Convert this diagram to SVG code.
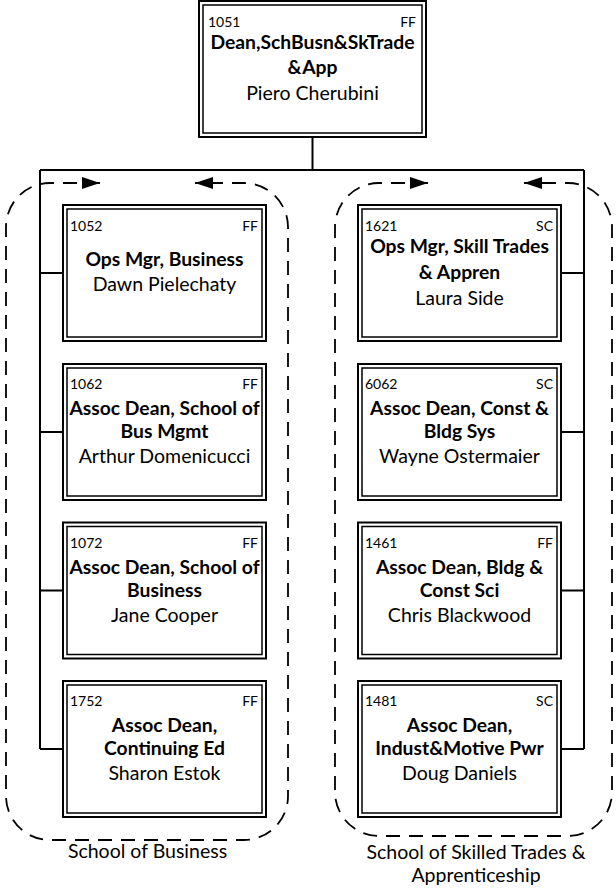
<svg xmlns="http://www.w3.org/2000/svg" width="616" height="891" viewBox="0 0 616 891">
<defs>
<style>
.bo{fill:#fff;stroke:#000;stroke-width:2}
.bi{fill:none;stroke:#000;stroke-width:1.5}
.id{font-family:Lato,"Liberation Sans",sans-serif;font-size:14px;fill:#000}
.tt{font-family:Lato,"Liberation Sans",sans-serif;font-size:19.3px;font-weight:bold;fill:#000;text-anchor:middle}
.nm{font-family:Lato,"Liberation Sans",sans-serif;font-size:19.5px;fill:#000;text-anchor:middle}
.lb{font-family:Lato,"Liberation Sans",sans-serif;font-size:19.5px;fill:#000;text-anchor:middle}
.ln{fill:none;stroke:#000;stroke-width:2}
.dash{fill:none;stroke:#000;stroke-width:1.8;stroke-dasharray:14 9;marker-start:url(#ah);marker-end:url(#ah)}
</style>
<marker id="ah" markerUnits="userSpaceOnUse" markerWidth="18" markerHeight="12" viewBox="0 0 18 12" refX="18" refY="6" orient="auto-start-reverse">
<path d="M0,0 L18,6 L0,12 z" fill="#000"/>
</marker>
</defs>
<rect width="616" height="891" fill="#fff"/>
<g id="connectors">
<path class="ln" d="M312.5,137 V170 M40,170 H584 M40,170 V749 M584,170 V749 M40,273 H63 M40,432 H63 M40,590.5 H63 M40,749 H63 M561,273 H584 M561,432 H584 M561,590.5 H584 M561,749 H584"/>
</g>
<g id="group-business">
<path class="dash" d="M100,183 H50 A44,44 0 0 0 6,227 V796 A44,44 0 0 0 50,840 H244 A44,44 0 0 0 288,796 V227 A44,44 0 0 0 244,183 H195"/>
<text class="lb" x="147.5" y="858">School of Business</text>
</g>
<g id="group-trades">
<path class="dash" d="M428,183 H379 A44,44 0 0 0 335,227 V792 A44,44 0 0 0 379,836 H568 A44,44 0 0 0 612,792 V227 A44,44 0 0 0 568,183 H524"/>
<text class="lb" x="476" y="859">School of Skilled Trades &amp;</text>
<text class="lb" x="476" y="882">Apprenticeship</text>
</g>
<g id="n1051">
<rect class="bo" x="199" y="1" width="227" height="136"/>
<rect class="bi" x="203" y="5" width="219" height="128"/>
<text class="id" x="208" y="27">1051</text>
<text class="id" x="416" y="27" text-anchor="end">FF</text>
<text class="tt" x="312.5" y="49">Dean,SchBusn&amp;SkTrade</text>
<text class="tt" x="312.5" y="74">&amp;App</text>
<text class="nm" x="312.5" y="100">Piero Cherubini</text>
</g>
<g id="n1052">
<rect class="bo" x="63" y="205" width="203" height="136"/>
<rect class="bi" x="67" y="209" width="195" height="128"/>
<text class="id" x="70" y="231">1052</text>
<text class="id" x="258" y="231" text-anchor="end">FF</text>
<text class="tt" x="164.5" y="266">Ops Mgr, Business</text>
<text class="nm" x="164.5" y="291">Dawn Pielechaty</text>
</g>
<g id="n1062">
<rect class="bo" x="63" y="364" width="203" height="136"/>
<rect class="bi" x="67" y="368" width="195" height="128"/>
<text class="id" x="70" y="389">1062</text>
<text class="id" x="258" y="389" text-anchor="end">FF</text>
<text class="tt" x="164.5" y="415">Assoc Dean, School of</text>
<text class="tt" x="164.5" y="438">Bus Mgmt</text>
<text class="nm" x="164.5" y="463">Arthur Domenicucci</text>
</g>
<g id="n1072">
<rect class="bo" x="63" y="522.5" width="203" height="136"/>
<rect class="bi" x="67" y="526.5" width="195" height="128"/>
<text class="id" x="70" y="547.5">1072</text>
<text class="id" x="258" y="547.5" text-anchor="end">FF</text>
<text class="tt" x="164.5" y="573.5">Assoc Dean, School of</text>
<text class="tt" x="164.5" y="596.5">Business</text>
<text class="nm" x="164.5" y="621.5">Jane Cooper</text>
</g>
<g id="n1752">
<rect class="bo" x="63" y="681" width="203" height="136"/>
<rect class="bi" x="67" y="685" width="195" height="128"/>
<text class="id" x="70" y="706">1752</text>
<text class="id" x="258" y="706" text-anchor="end">FF</text>
<text class="tt" x="164.5" y="732">Assoc Dean,</text>
<text class="tt" x="164.5" y="755">Continuing Ed</text>
<text class="nm" x="164.5" y="780">Sharon Estok</text>
</g>
<g id="n1621">
<rect class="bo" x="358" y="205" width="203" height="136"/>
<rect class="bi" x="362" y="209" width="195" height="128"/>
<text class="id" x="365" y="231">1621</text>
<text class="id" x="553" y="231" text-anchor="end">SC</text>
<text class="tt" x="459.5" y="253">Ops Mgr, Skill Trades</text>
<text class="tt" x="459.5" y="279">&amp; Appren</text>
<text class="nm" x="459.5" y="305">Laura Side</text>
</g>
<g id="n6062">
<rect class="bo" x="358" y="364" width="203" height="136"/>
<rect class="bi" x="362" y="368" width="195" height="128"/>
<text class="id" x="365" y="389">6062</text>
<text class="id" x="553" y="389" text-anchor="end">SC</text>
<text class="tt" x="459.5" y="415">Assoc Dean, Const &amp;</text>
<text class="tt" x="459.5" y="438">Bldg Sys</text>
<text class="nm" x="459.5" y="463">Wayne Ostermaier</text>
</g>
<g id="n1461">
<rect class="bo" x="358" y="522.5" width="203" height="136"/>
<rect class="bi" x="362" y="526.5" width="195" height="128"/>
<text class="id" x="365" y="547.5">1461</text>
<text class="id" x="553" y="547.5" text-anchor="end">FF</text>
<text class="tt" x="459.5" y="573.5">Assoc Dean, Bldg &amp;</text>
<text class="tt" x="459.5" y="596.5">Const Sci</text>
<text class="nm" x="459.5" y="621.5">Chris Blackwood</text>
</g>
<g id="n1481">
<rect class="bo" x="358" y="681" width="203" height="136"/>
<rect class="bi" x="362" y="685" width="195" height="128"/>
<text class="id" x="365" y="706">1481</text>
<text class="id" x="553" y="706" text-anchor="end">SC</text>
<text class="tt" x="459.5" y="732">Assoc Dean,</text>
<text class="tt" x="459.5" y="755">Indust&amp;Motive Pwr</text>
<text class="nm" x="459.5" y="780">Doug Daniels</text>
</g>
</svg>
